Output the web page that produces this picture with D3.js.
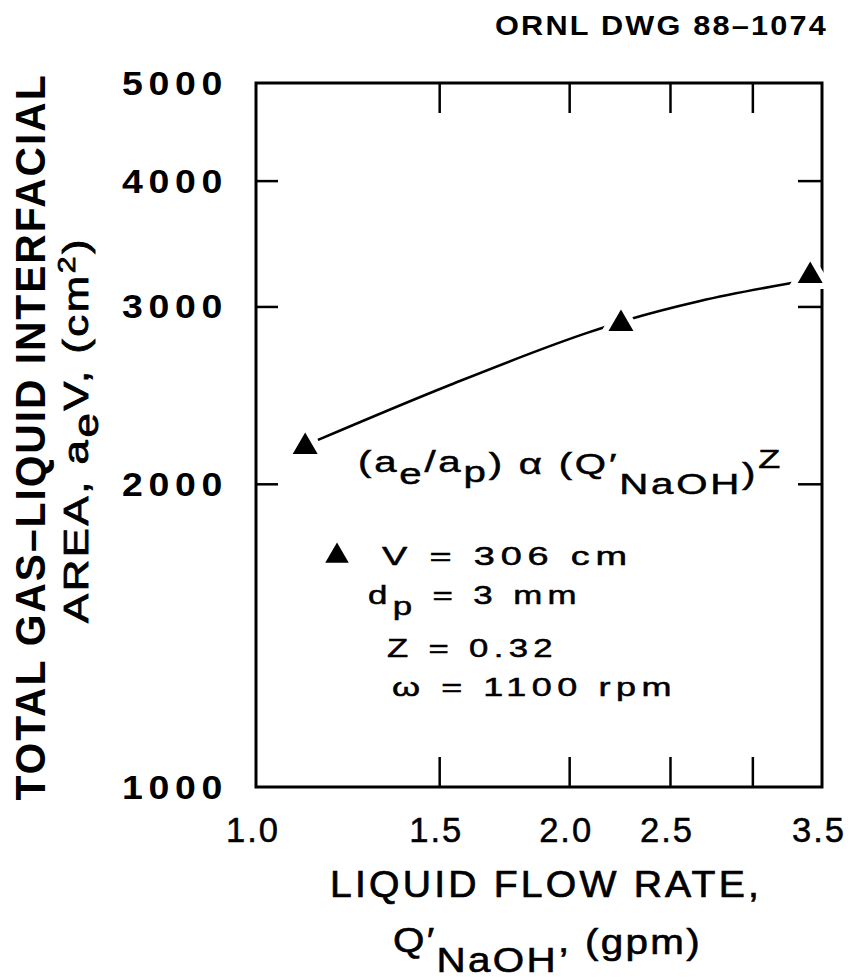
<!DOCTYPE html>
<html lang="en">
<head>
<meta charset="UTF-8">
<title>Gas-liquid interfacial area vs liquid flow rate</title>
<script src="https://d3js.org/d3.v7.min.js"></script>
<style>
  html, body { margin:0; padding:0; background:#fff; }
  svg { display:block; font-family:"Liberation Sans", Arial, sans-serif; }
  .frame { fill:none; stroke:#000; stroke-width:3; }
  .ticks line { stroke:#000; stroke-width:2.5; }
  .ticks path { display:none; }
  .ticks text { display:none; }
</style>
</head>
<body>
<svg id="chart" width="859" height="980"></svg>
<script>
// measured points (Q'NaOH in gpm, aeV in cm^2)
const flowRate = [1.115, 2.243, 3.41];
const area = [2176, 2883, 3217];
// fitted curve
const fitFlow = [1.147, 1.536, 2.081, 2.274, 2.672, 3.283];
const fitArea = [2211, 2507, 2824, 2909, 3038, 3167];
const xTickMarks = [1.5, 2.0, 2.5, 3.0];
const xTickLabels = [1.0, 1.5, 2.0, 2.5, 3.5];
const yTickMarks = [2000, 3000, 4000];
const yTickLabels = [1000, 2000, 3000, 4000, 5000];

const svg = d3.select("#chart");
const pLeft = 256, pRight = 822, pTop = 83, pBottom = 787;
const x = d3.scaleLog().domain([1, 3.5]).range([pLeft, pRight]);
const y = d3.scaleLog().domain([1000, 5000]).range([pBottom, pTop]);

// text helper: parts are strings or {t, dy, size}
function addText(px, py, parts, o) {
  const t = svg.append("text").attr("x", px).attr("y", py)
    .attr("font-size", o.size).attr("font-weight", o.weight || "normal")
    .attr("text-anchor", o.anchor || "start")
    .attr("letter-spacing", o.ls || 0);
  if (o.rotate) t.attr("transform", "rotate(" + o.rotate + "," + px + "," + py + ")");
  if (o.len) t.attr("textLength", o.len).attr("lengthAdjust", "spacingAndGlyphs");
  if (o.stroke) t.attr("stroke", "#000").attr("stroke-width", o.stroke);
  parts.forEach(p => {
    const s = typeof p === "string" ? {t: p} : p;
    const sp = t.append("tspan").attr("dy", s.dy || 0).text(s.t);
    if (s.size) sp.attr("font-size", s.size);
  });
  return t;
}

// frame
svg.append("rect").attr("class", "frame")
  .attr("x", pLeft).attr("y", pTop).attr("width", pRight - pLeft).attr("height", pBottom - pTop);

// inward ticks
svg.append("g").attr("class", "ticks").attr("transform", "translate(0," + pBottom + ")")
  .call(d3.axisBottom(x).tickValues(xTickMarks).tickSize(-30));
svg.append("g").attr("class", "ticks").attr("transform", "translate(0," + pTop + ")")
  .call(d3.axisTop(x).tickValues(xTickMarks).tickSize(-30));
svg.append("g").attr("class", "ticks").attr("transform", "translate(" + pLeft + ",0)")
  .call(d3.axisLeft(y).tickValues(yTickMarks).tickSize(-22));
svg.append("g").attr("class", "ticks").attr("transform", "translate(" + pRight + ",0)")
  .call(d3.axisRight(y).tickValues(yTickMarks).tickSize(-24));

// tick labels
xTickLabels.forEach(v => addText(x(v) - 3, 842, [d3.format(".1f")(v)],
  {size: 35, anchor: "middle", len: 54, ls: 2, stroke: 0.5}));
yTickLabels.forEach(v => addText(228, y(v) + 12, [String(v)],
  {size: 33, weight: "bold", anchor: "end", len: 106, ls: 5}));

// fitted curve
const fit = fitFlow.map((f, i) => [f, fitArea[i]]);
svg.append("path").datum(fit)
  .attr("fill", "none").attr("stroke", "#000").attr("stroke-width", 2.6)
  .attr("d", d3.line().x(d => x(d[0])).y(d => y(d[1])).curve(d3.curveMonotoneX));

// data markers with white halo
const tri = d3.symbol(d3.symbolTriangle, 270);
svg.selectAll(".pt").data(flowRate.map((f, i) => [f, area[i]])).enter()
  .append("path").attr("class", "pt")
  .attr("transform", d => "translate(" + x(d[0]) + "," + y(d[1]) + ")")
  .attr("d", tri)
  .attr("fill", "#000").attr("stroke", "#fff").attr("stroke-width", 12)
  .attr("paint-order", "stroke");

// drawing number
addText(495, 35, ["ORNL DWG 88\u20131074"], {size: 28, weight: "bold", len: 333, ls: 2});

// y title
addText(45, 437, ["TOTAL GAS\u2013LIQUID INTERFACIAL"],
  {size: 42, weight: "bold", anchor: "middle", rotate: -90, len: 727, ls: 2});
addText(88, 430, ["AREA, a", {t: "e", dy: 10}, {t: "V, (cm", dy: -10},
  {t: "2", dy: -13, size: 24}, {t: ")", dy: 13}],
  {size: 35, anchor: "middle", rotate: -90, len: 386, ls: 2, stroke: 0.8});

// x title
addText(546, 897, ["LIQUID FLOW RATE,"], {size: 37, anchor: "middle", len: 432, ls: 3, stroke: 0.7});
addText(393, 952, ["Q\u2032", {t: "NaOH", dy: 20}, {t: ",", dy: -20}, {t: " (gpm)", dy: 2}],
  {size: 35, len: 309, ls: 2, stroke: 0.6});

// correlation
addText(358, 472, ["(a", {t: "e", dy: 12}, {t: "/a", dy: -12}, {t: "p", dy: 10},
  {t: ") \u03b1 (Q\u2032", dy: -8}, {t: "NaOH", dy: 20}, {t: ")", dy: -10},
  {t: "Z", dy: -16, size: 26}],
  {size: 29, len: 425, ls: 2, stroke: 0.5});

// legend
svg.append("path").attr("transform", "translate(337,556)")
  .attr("d", d3.symbol(d3.symbolTriangle, 240)).attr("fill", "#000");
addText(382, 565, ["V = 306 cm"], {size: 26, len: 251, ls: 4, stroke: 0.5});
addText(368, 604, ["d", {t: "p", dy: 11}, {t: " = 3 mm", dy: -11}], {size: 26, len: 214, ls: 4, stroke: 0.5});
addText(387, 657, ["Z = 0.32"], {size: 26, len: 171, ls: 4, stroke: 0.5});
addText(392, 696, ["\u03c9 = 1100 rpm"], {size: 26, len: 285, ls: 4, stroke: 0.5});
</script>
</body>
</html>
